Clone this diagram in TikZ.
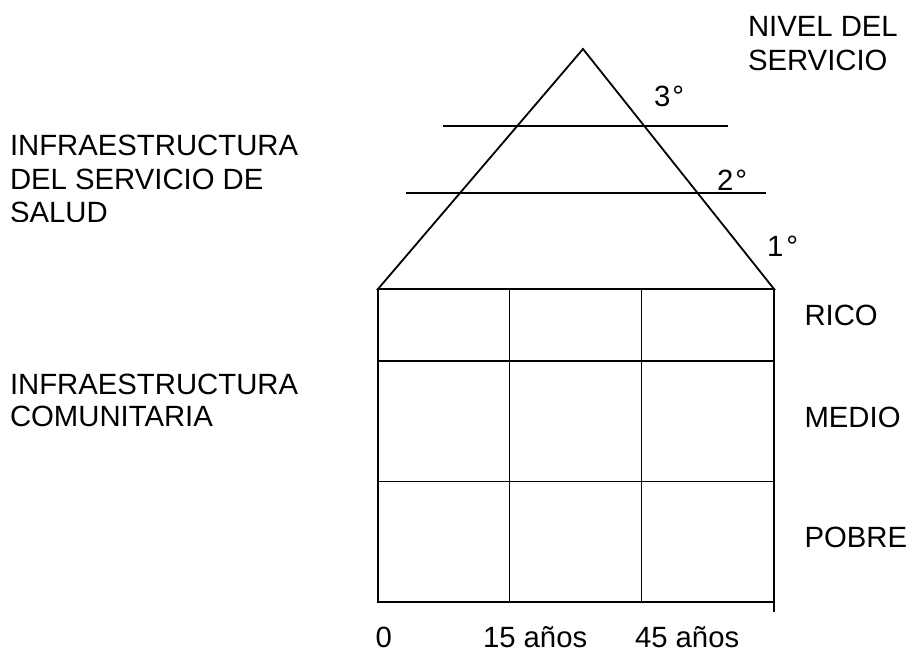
\documentclass[tikz,border=0pt]{standalone}
\usepackage{fontspec}
\setmainfont{Liberation Sans}
\begin{document}
\begin{tikzpicture}[x=1pt,y=-1pt,
  txt/.style={anchor=base west,inner sep=0pt,outer sep=0pt,font=\fontsize{29.3}{33.5}\selectfont},
  ln/.style={line width=1.8pt,line cap=rect,black}]
\useasboundingbox (0,0) rectangle (913,650);
% pyramid
\coordinate (apex) at (583,49);
\coordinate (bl) at (378,289);
\coordinate (br) at (774,289);
\draw[ln,line join=miter] (bl) -- (apex) -- (br) -- cycle;
% level lines
\coordinate (l3a) at (443,126); \coordinate (l3b) at (728,126);
\coordinate (l2a) at (406,193); \coordinate (l2b) at (766,193);
\draw[ln,line cap=butt] (l3a) -- (l3b);
\draw[ln,line cap=butt] (l2a) -- (l2b);
% grid
\draw[ln] (378,289) rectangle (774,602);
\draw[ln,line cap=butt] (378,361) -- (774,361);
\draw[ln,line cap=butt] (378,481.5) -- (774,481.5);
\draw[ln,line cap=butt] (509.5,289) -- (509.5,602);
\draw[ln,line cap=butt] (641.5,289) -- (641.5,602);
\draw[ln,line cap=butt] (774,602) -- (774,612);
% level labels
\node[txt] (n3) at (654,107) {3\kern2pt°};
\node[txt] (n2) at (717,190) {2\kern2pt°};
\node[txt] (n1) at (767,256.5) {1\kern3pt°};
\node[txt] (niv1) at (748,36.5) {NIVEL DEL};
\node[txt] (niv2) at (748,71) {SERVICIO};
% left labels
\node[txt] (is1) at (10,156) {INFRAESTRUCTURA};
\node[txt] (is2) at (10,189.3) {DEL SERVICIO DE};
\begin{scope}
\clip (0,0) rectangle (913,221);
\node[txt] (is3) at (10,222.8) {SALUD};
\end{scope}
\node[txt] (ic1) at (10,394) {INFRAESTRUCTURA};
\node[txt] (ic2) at (10,426.5) {COMUNITARIA};
% right labels
\node[txt] (rico) at (804.5,325.5) {RICO};
\node[txt] (medio) at (804.5,427) {MEDIO};
\node[txt] (pobre) at (804.5,547) {POBRE};
% bottom labels
\node[txt] (a0) at (375.5,647.5) {0};
\node[txt] (a15) at (483,647.5) {15 años};
\node[txt] (a45) at (635,647.5) {45 años};
\end{tikzpicture}
\end{document}
